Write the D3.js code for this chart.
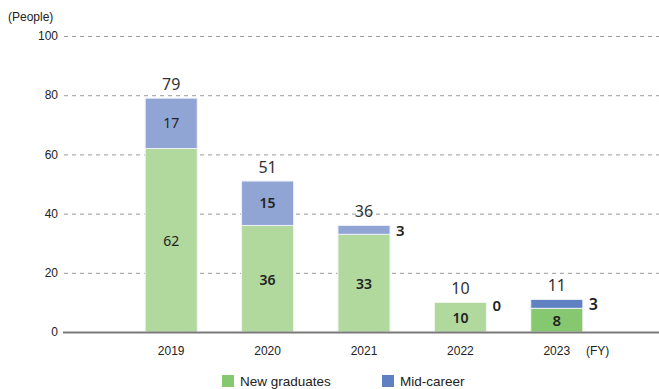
<!DOCTYPE html>
<html>
<head>
<meta charset="utf-8">
<script src="https://cdn.jsdelivr.net/npm/d3@7"></script>
<style>
  html, body { margin: 0; padding: 0; background: #fff; }
  svg { display: block; }
</style>
</head>
<body>
<svg id="chart" width="659" height="389"></svg>
<script>
// Hires by fiscal year
const years = ["2019", "2020", "2021", "2022", "2023"];
const newGraduates = [62, 36, 33, 10, 8];
const midCareer = [17, 15, 3, 0, 3];
const totals = [79, 51, 36, 10, 11];
const yTicks = [0, 20, 40, 60, 80, 100];

const colors = {
  newLight: "#b1d89d", midLight: "#91a5d4",
  newDark: "#86c870", midDark: "#5f80c1"
};

const svg = d3.select("#chart");
const W = 659;

const x = d3.scaleBand().domain(years).range([123, 605]).paddingInner(0.46).paddingOuter(0.23);
const y = d3.scaleLinear().domain([0, 100]).range([332, 36]);

const labelFont = "'Noto Sans', 'Open Sans', sans-serif";
const axisFont = "'Liberation Sans', Arial, sans-serif";

// Gridlines
svg.append("g").selectAll("line").data(yTicks.filter(d => d > 0)).join("line")
  .attr("x1", 64).attr("x2", W)
  .attr("y1", d => y(d) + 0.5).attr("y2", d => y(d) + 0.5)
  .attr("stroke", "#9a9a9a").attr("stroke-width", 1)
  .attr("stroke-dasharray", "4,4");

// Y tick labels
svg.append("g").selectAll("text").data(yTicks).join("text")
  .attr("x", 58).attr("y", d => y(d)).attr("dy", "0.35em")
  .attr("text-anchor", "end").attr("font-family", axisFont)
  .attr("font-size", 12).attr("fill", "#222").text(d => d);

svg.append("text").attr("x", 8).attr("y", 21)
  .attr("font-family", axisFont).attr("font-size", 12).attr("fill", "#222")
  .text("(People)");

const rows = years.map((yr, i) => ({
  yr, i, n: newGraduates[i], m: midCareer[i], t: totals[i],
  dark: i === years.length - 1
}));

const bars = svg.append("g");
// New graduates segment
bars.selectAll("rect.new").data(rows).join("rect").attr("class", "new")
  .attr("x", d => x(d.yr)).attr("width", x.bandwidth())
  .attr("y", d => y(d.n)).attr("height", d => y(0) - y(d.n))
  .attr("fill", d => d.dark ? colors.newDark : colors.newLight)
  .attr("stroke", "#f2f7ef").attr("stroke-width", 1);
// Mid-career segment
bars.selectAll("rect.mid").data(rows.filter(d => d.m > 0)).join("rect").attr("class", "mid")
  .attr("x", d => x(d.yr)).attr("width", x.bandwidth())
  .attr("y", d => y(d.n + d.m)).attr("height", d => y(d.n) - y(d.n + d.m))
  .attr("fill", d => d.dark ? colors.midDark : colors.midLight)
  .attr("stroke", "#eef0f8").attr("stroke-width", 1);

// Baseline
svg.append("line").attr("x1", 63).attr("x2", W)
  .attr("y1", y(0) + 0.5).attr("y2", y(0) + 0.5)
  .attr("stroke", "#7a7a7a").attr("stroke-width", 2);

// Totals above bars
svg.append("g").selectAll("text").data(rows).join("text")
  .attr("x", d => x(d.yr) + x.bandwidth() / 2).attr("y", d => y(d.t) - 8)
  .attr("text-anchor", "middle").attr("font-family", labelFont)
  .attr("font-size", 16).attr("fill", "#333").text(d => d.t);

// New graduates values inside bars
svg.append("g").selectAll("text").data(rows).join("text")
  .attr("x", d => x(d.yr) + x.bandwidth() / 2)
  .attr("y", d => (y(0) + y(d.n)) / 2 + 1)
  .attr("dy", "0.35em").attr("text-anchor", "middle").attr("font-family", labelFont)
  .attr("font-size", d => d.dark ? 15 : 14)
  .attr("font-weight", d => d.i === 0 ? 400 : 600)
  .attr("fill", "#222").text(d => d.n);

// Mid-career values: inside when tall enough, otherwise to the right
svg.append("g").selectAll("text").data(rows).join("text")
  .attr("x", d => d.m >= 10 ? x(d.yr) + x.bandwidth() / 2 : x(d.yr) + x.bandwidth() + 6)
  .attr("y", d => d.m >= 10 ? (y(d.n) + y(d.n + d.m)) / 2 : (d.m === 0 ? y(d.n) + 3 : y(d.n + d.m / 2) + 1))
  .attr("dy", "0.35em")
  .attr("text-anchor", d => d.m >= 10 ? "middle" : "start")
  .attr("font-family", labelFont)
  .attr("font-size", d => d.dark ? 16 : (d.m >= 10 ? 14 : 15))
  .attr("font-weight", d => d.i === 0 ? 400 : 600)
  .attr("fill", "#222").text(d => d.m);

// X axis labels
svg.append("g").selectAll("text").data(years).join("text")
  .attr("x", d => x(d) + x.bandwidth() / 2).attr("y", 355)
  .attr("text-anchor", "middle").attr("font-family", axisFont)
  .attr("font-size", 12).attr("fill", "#222").text(d => d);
svg.append("text").attr("x", 586).attr("y", 355)
  .attr("font-family", axisFont).attr("font-size", 12).attr("fill", "#222")
  .text("(FY)");

// Legend
const legend = [
  { label: "New graduates", color: colors.newDark, x: 222 },
  { label: "Mid-career", color: colors.midDark, x: 382 }
];
const lg = svg.append("g").selectAll("g").data(legend).join("g")
  .attr("transform", d => `translate(${d.x},375)`);
lg.append("rect").attr("width", 12).attr("height", 12).attr("fill", d => d.color);
lg.append("text").attr("x", 18).attr("y", 10.5)
  .attr("font-family", axisFont).attr("font-size", 13.5).attr("fill", "#222")
  .text(d => d.label);
</script>
</body>
</html>
